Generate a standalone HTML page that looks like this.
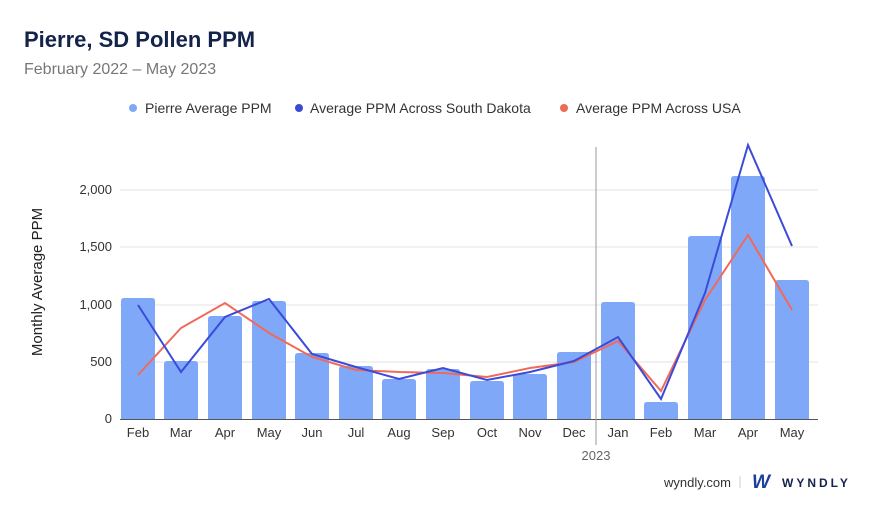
<!DOCTYPE html>
<html><head><meta charset="utf-8"><style>
body{margin:0;width:880px;height:510px;background:#fff;font-family:"Liberation Sans",sans-serif;overflow:hidden}
</style></head><body>
<svg width="880" height="510" xmlns="http://www.w3.org/2000/svg" font-family="Liberation Sans, sans-serif">
<text x="24" y="47" font-size="22" font-weight="bold" fill="#14234b">Pierre, SD Pollen PPM</text>
<text x="24" y="74" font-size="16" fill="#777">February 2022 – May 2023</text>
<g font-size="14" fill="#333">
<circle cx="133" cy="108" r="4" fill="#7fa9f8"/><text x="145" y="113">Pierre Average PPM</text>
<circle cx="299" cy="108" r="4" fill="#3b4bd8"/><text x="310" y="113">Average PPM Across South Dakota</text>
<circle cx="564" cy="108" r="4" fill="#f06a5a"/><text x="576" y="113">Average PPM Across USA</text>
</g>
<g stroke="#e3e3e3" stroke-width="1">
<line x1="120" y1="190" x2="818" y2="190"/><line x1="120" y1="247" x2="818" y2="247"/>
<line x1="120" y1="305" x2="818" y2="305"/><line x1="120" y1="362" x2="818" y2="362"/>
</g>
<line x1="120" y1="419.5" x2="818" y2="419.5" stroke="#555"/>
<g font-size="13" fill="#333" text-anchor="end">
<text x="112" y="194">2,000</text><text x="112" y="251">1,500</text><text x="112" y="309">1,000</text><text x="112" y="366">500</text><text x="112" y="423">0</text>
</g>
<text transform="translate(42,282) rotate(-90)" font-size="15" fill="#222" text-anchor="middle">Monthly Average PPM</text>
<g fill="#7fa9f8">
<path d="M121,419V301q0-3 3-3h28q3 0 3 3V419Z"/>
<path d="M164,419V364q0-3 3-3h28q3 0 3 3V419Z"/>
<path d="M208,419V319q0-3 3-3h28q3 0 3 3V419Z"/>
<path d="M252,419V304q0-3 3-3h28q3 0 3 3V419Z"/>
<path d="M295,419V356q0-3 3-3h28q3 0 3 3V419Z"/>
<path d="M339,419V369q0-3 3-3h28q3 0 3 3V419Z"/>
<path d="M382,419V382q0-3 3-3h28q3 0 3 3V419Z"/>
<path d="M426,419V372q0-3 3-3h28q3 0 3 3V419Z"/>
<path d="M470,419V384q0-3 3-3h28q3 0 3 3V419Z"/>
<path d="M513,419V377q0-3 3-3h28q3 0 3 3V419Z"/>
<path d="M557,419V355q0-3 3-3h28q3 0 3 3V419Z"/>
<path d="M601,419V305q0-3 3-3h28q3 0 3 3V419Z"/>
<path d="M644,419V405q0-3 3-3h28q3 0 3 3V419Z"/>
<path d="M688,419V239q0-3 3-3h28q3 0 3 3V419Z"/>
<path d="M731,419V179q0-3 3-3h28q3 0 3 3V419Z"/>
<path d="M775,419V283q0-3 3-3h28q3 0 3 3V419Z"/>
</g>
<line x1="596" y1="147" x2="596" y2="445" stroke="#999"/>
<polyline fill="none" stroke="#f06a5a" stroke-width="2" points="138,375 181,328 225,303 269,333 312,357 356,370 399,372 443,373 487,377 530,368 574,362 618,341 661,391 705,300 748,235 792,310"/>
<polyline fill="none" stroke="#3b4bd8" stroke-width="2" points="138,305 181,372 225,317 269,299 312,354 356,367 399,379 443,368 487,380 530,372 574,361 618,337 661,399 705,293 748,145 792,246"/>
<g font-size="13" fill="#333" text-anchor="middle">
<text x="138" y="437">Feb</text><text x="181" y="437">Mar</text><text x="225" y="437">Apr</text><text x="269" y="437">May</text><text x="312" y="437">Jun</text><text x="356" y="437">Jul</text><text x="399" y="437">Aug</text><text x="443" y="437">Sep</text><text x="487" y="437">Oct</text><text x="530" y="437">Nov</text><text x="574" y="437">Dec</text><text x="618" y="437">Jan</text><text x="661" y="437">Feb</text><text x="705" y="437">Mar</text><text x="748" y="437">Apr</text><text x="792" y="437">May</text>
<text x="596" y="460" fill="#666">2023</text>
</g>
<text x="731" y="487" font-size="13" fill="#333" text-anchor="end">wyndly.com</text>
<line x1="740" y1="476" x2="740" y2="488" stroke="#ccc"/>
<text x="752" y="488" font-size="19" font-weight="bold" font-style="italic" fill="#1b3f9c">W</text>
<text x="782" y="487" font-size="12" font-weight="bold" fill="#14234b" letter-spacing="3">WYNDLY</text>
</svg>
</body></html>
